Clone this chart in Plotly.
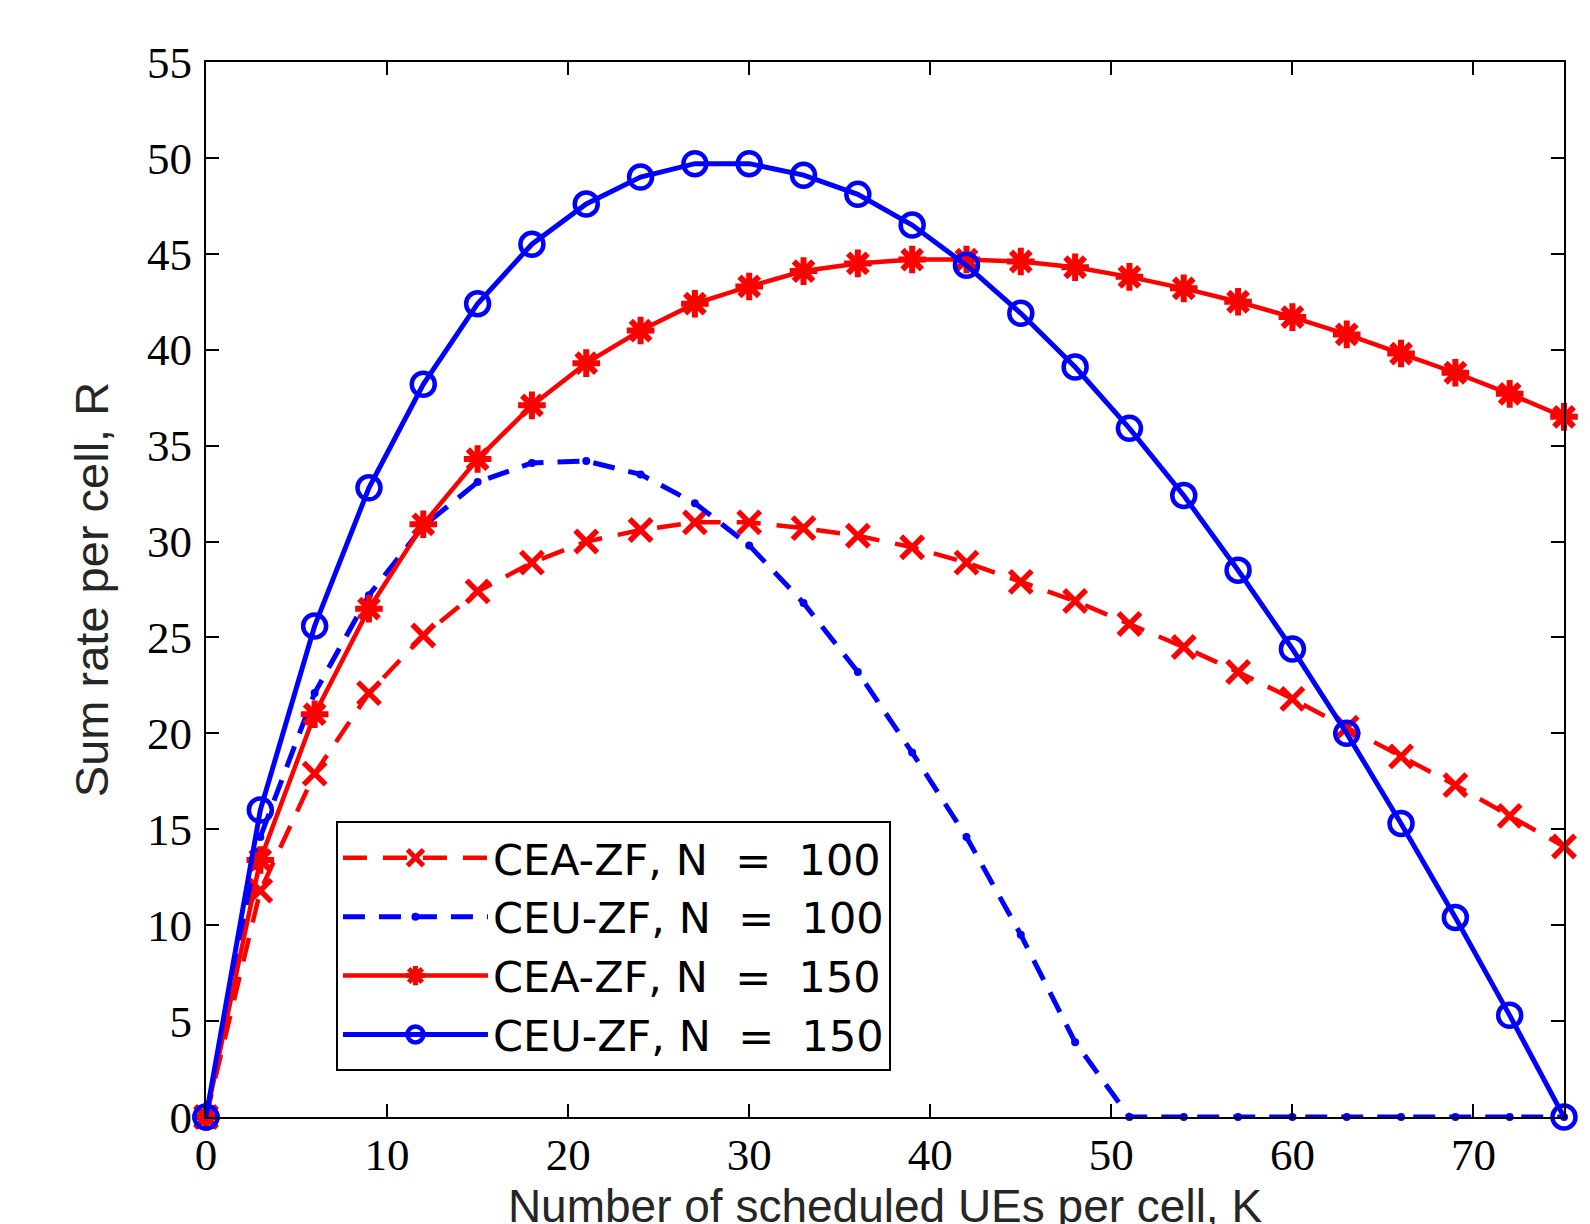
import plotly.graph_objects as go

K = [0, 3, 6, 9, 12, 15, 18, 21, 24, 27, 30, 33, 36, 39, 42, 45, 48, 51, 54, 57, 60, 63, 66, 69, 72, 75]

cea_100 = [0, 11.8, 17.9, 22.1, 25.1, 27.4, 28.9, 30.0, 30.6, 31.0, 31.0, 30.7, 30.3, 29.7, 28.9, 27.9,
           26.9, 25.7, 24.5, 23.2, 21.8, 20.3, 18.8, 17.3, 15.7, 14.1]
ceu_100 = [0, 14.6, 22.1, 27.2, 30.8, 33.1, 34.1, 34.2, 33.5, 32.0, 29.8, 26.8, 23.2, 19.0, 14.6, 9.5,
           3.9, 0, 0, 0, 0, 0, 0, 0, 0, 0]
cea_150 = [0, 13.4, 21.0, 26.5, 30.9, 34.3, 37.1, 39.3, 41.0, 42.4, 43.3, 44.1, 44.5, 44.7, 44.7, 44.6,
           44.3, 43.8, 43.2, 42.5, 41.7, 40.8, 39.8, 38.8, 37.7, 36.5]
ceu_150 = [0, 16.0, 25.6, 32.8, 38.2, 42.4, 45.5, 47.6, 49.0, 49.7, 49.7, 49.1, 48.1, 46.5, 44.4, 41.9,
           39.1, 35.9, 32.4, 28.5, 24.4, 20.0, 15.3, 10.4, 5.3, 0]

names = ["CEA-ZF, N\u00a0 =\u00a0 100", "CEU-ZF, N\u00a0 =\u00a0 100",
         "CEA-ZF, N\u00a0 =\u00a0 150", "CEU-ZF, N\u00a0 =\u00a0 150"]
x_ticks = [0, 10, 20, 30, 40, 50, 60, 70]
y_ticks = [0, 5, 10, 15, 20, 25, 30, 35, 40, 45, 50, 55]

RED = "#FF0000"
BLUE = "#0000FF"

fig = go.Figure()
fig.add_trace(go.Scatter(
    x=K, y=cea_100, name=names[0], mode="lines+markers", cliponaxis=False,
    line=dict(color=RED, width=4.5, dash="24px,16px"),
    marker=dict(symbol="x-thin-open", size=22, color=RED, line=dict(color=RED, width=5.5)),
))
fig.add_trace(go.Scatter(
    x=K, y=ceu_100, name=names[1], mode="lines+markers", cliponaxis=False,
    line=dict(color=BLUE, width=5, dash="22px,14px"),
    marker=dict(symbol="circle", size=8, color=BLUE, line=dict(width=0)),
))
fig.add_trace(go.Scatter(
    x=K, y=cea_150, name=names[2], mode="lines+markers", cliponaxis=False,
    line=dict(color=RED, width=4.5),
    marker=dict(symbol="asterisk-open", size=23, color=RED, line=dict(color=RED, width=6)),
))
fig.add_trace(go.Scatter(
    x=K, y=ceu_150, name=names[3], mode="lines+markers", cliponaxis=False,
    line=dict(color=BLUE, width=5),
    marker=dict(symbol="circle-open", size=23, color=BLUE, line=dict(color=BLUE, width=4.5)),
))

axis_common = dict(
    showgrid=False, zeroline=False, showline=True, linecolor="black", linewidth=2,
    mirror="allticks", ticks="inside", ticklen=13, tickwidth=1.5, tickcolor="black",
    tickfont=dict(family="Liberation Serif", size=45, color="black"),
    automargin=False,
)

fig.update_xaxes(
    range=[0, 75], tickmode="array", tickvals=x_ticks, ticktext=[str(v) for v in x_ticks],
    title=dict(text="Number of scheduled UEs per cell, K",
               font=dict(family="Liberation Sans", size=46, color="#262626"), standoff=27),
    ticklabelstandoff=-3,
    **axis_common,
)
fig.update_yaxes(
    range=[0, 55], tickmode="array", tickvals=y_ticks, ticktext=[str(v) for v in y_ticks],
    title=dict(text="Sum rate per cell, R",
               font=dict(family="Liberation Sans", size=47, color="#262626"), standoff=24),
    ticklabelstandoff=3,
    **axis_common,
)

fig.update_layout(
    width=1590, height=1224,
    margin=dict(l=198, r=34, t=54, b=115),
    paper_bgcolor="white", plot_bgcolor="white",
    showlegend=True,
    legend=dict(
        x=0.0957, y=0.2803, xanchor="left", yanchor="top",
        bgcolor="white", bordercolor="black", borderwidth=2,
        font=dict(family="DejaVu Sans", size=43, color="black"),
        itemwidth=145, tracegroupgap=0,
    ),
)

fig.write_html("out.html")
